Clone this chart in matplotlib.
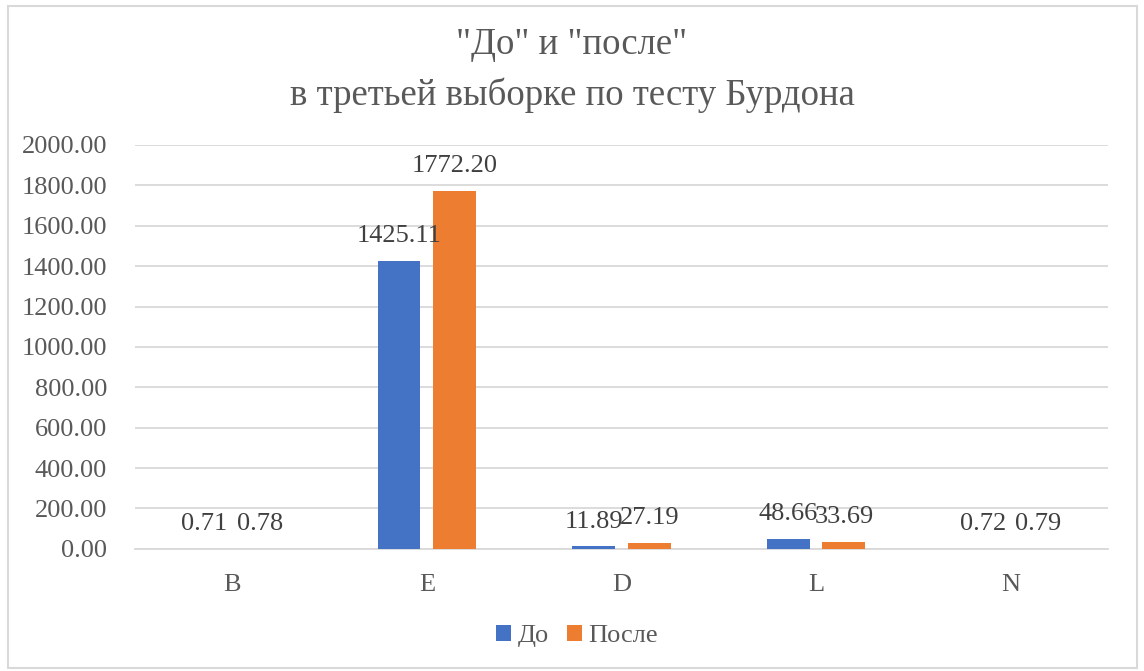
import numpy as np
import matplotlib
matplotlib.use("Agg")
import matplotlib.pyplot as plt
from matplotlib.patches import Rectangle
from matplotlib.ticker import FormatStrFormatter

plt.rcParams['font.family'] = ['Liberation Serif', 'DejaVu Serif']

categories = ['B', 'E', 'D', 'L', 'N']
before = [0.71, 1425.11, 11.89, 48.66, 0.72]
after = [0.78, 1772.20, 27.19, 33.69, 0.79]
series_names = ['До', 'После']
title_lines = ['"До" и "после"', 'в третьей выборке по тесту Бурдона']

blue = '#4472c4'
orange = '#ed7d31'
text_col = '#595959'
grid_col = '#d9d9d9'

fig = plt.figure(figsize=(11.44, 6.71), dpi=100)
ax = fig.add_axes([0.118, 0.182, 0.8505, 0.602])

x = np.arange(len(categories))
w = 0.22
off = 0.143
b1 = ax.bar(x - off, before, w, color=blue, label=series_names[0], zorder=3)
b2 = ax.bar(x + off, after, w, color=orange, label=series_names[1], zorder=3)

for bars, vals in ((b1, before), (b2, after)):
    for r, v in zip(bars, vals):
        ax.annotate(f'{v:.2f}', (r.get_x() + r.get_width() / 2, r.get_height()),
                    xytext=(0, 10), textcoords='offset points', ha='center', va='bottom',
                    fontsize=19, color='#404040', zorder=4)

ax.set_xlim(-0.5, len(categories) - 0.5)
ax.set_ylim(0, 2000)
ax.set_yticks(np.arange(0, 2001, 200))
ax.yaxis.set_major_formatter(FormatStrFormatter('%.2f'))
ax.set_xticks(x)
ax.set_xticklabels(categories)
ax.tick_params(axis='both', length=0, labelsize=19, labelcolor=text_col)
ax.tick_params(axis='x', pad=18)
ax.tick_params(axis='y', pad=20)
ax.grid(axis='y', color=grid_col, linewidth=1.3, zorder=0)
for s in ('top', 'right', 'left'):
    ax.spines[s].set_visible(False)
ax.spines['bottom'].set_color(grid_col)
ax.spines['bottom'].set_linewidth(1.3)

fig.text(0.5, 0.933, title_lines[0], ha='center', va='center', fontsize=26.5, color=text_col)
fig.text(0.5, 0.858, title_lines[1], ha='center', va='center', fontsize=26.5, color=text_col)

fig.legend(handles=[b1, b2], loc='center', bbox_to_anchor=(0.5044, 0.052), ncol=2,
           frameon=False, fontsize=19, handlelength=0.55, handleheight=0.55,
           handletextpad=0.25, columnspacing=0.7, labelcolor=text_col)

fig.patches.append(Rectangle((0.007, 0.005), 0.987, 0.986, transform=fig.transFigure,
                             fill=False, edgecolor=grid_col, linewidth=1.5))

fig.savefig('out.png', dpi=100)
